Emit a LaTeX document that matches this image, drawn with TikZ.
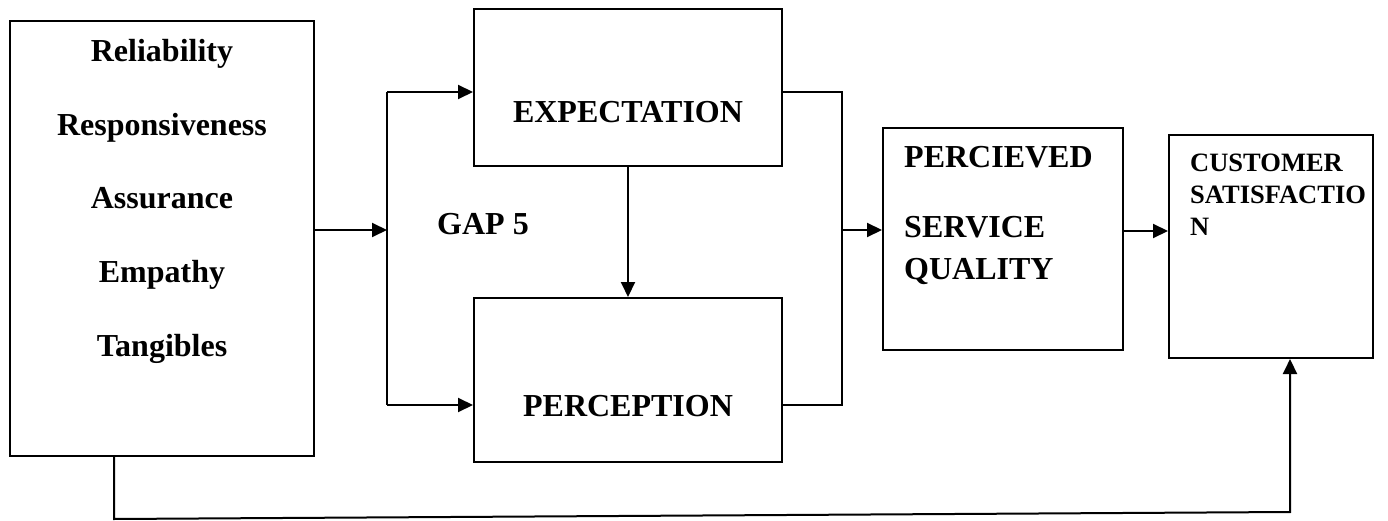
\documentclass[tikz,border=0pt]{standalone}
\usepackage{fontspec}
\setmainfont{Liberation Serif}
\usetikzlibrary{arrows.meta}
\begin{document}
\begin{tikzpicture}[x=1pt,y=-1pt,
  box/.style={draw,line width=2pt,rectangle,inner sep=0pt},
  conn/.style={line width=2pt},
  arr/.style={line width=2pt,-{Triangle[length=15pt,width=14pt]}},
  big/.style={inner sep=0pt,font=\fontsize{32}{38}\selectfont\bfseries},
  small/.style={inner sep=0pt,font=\fontsize{26.5}{32}\selectfont\bfseries}]
\useasboundingbox (0,0) rectangle (1388,521);
% boxes
\node[box,minimum width=304pt,minimum height=435pt] (left) at (162,238.5) {};
\node[box,minimum width=308pt,minimum height=157pt] (exp) at (628,87.5) {};
\node[box,minimum width=308pt,minimum height=164pt] (perc) at (628,380) {};
\node[box,minimum width=240pt,minimum height=222pt] (psq) at (1003,239) {};
\node[box,minimum width=204pt,minimum height=223pt] (cs) at (1271,246.5) {};
% texts
\node[big,anchor=base] (t1) at (162,62) {Reliability};
\node[big,anchor=base] (t2) at (162,135.5) {Responsiveness};
\node[big,anchor=base] (t3) at (162,209) {Assurance};
\node[big,anchor=base] (t4) at (162,282.5) {Empathy};
\node[big,anchor=base] (t5) at (162,356) {Tangibles};
\node[big,anchor=base] (te) at (628,123) {EXPECTATION};
\node[big,anchor=base] (tp) at (628,416) {PERCEPTION};
\node[big,anchor=base west] (gap) at (437,235) {GAP 5};
\node[big,anchor=base west] (q1) at (904,168) {PERCIEVED};
\node[big,anchor=base west] (q2) at (904,237) {SERVICE};
\node[big,anchor=base west] (q3) at (904,279) {QUALITY};
\node[small,anchor=base west] (c1) at (1190,172) {CUSTOMER};
\node[small,anchor=base west] (c2) at (1190,204) {SATISFACTIO};
\node[small,anchor=base west] (c3) at (1190,236) {N};
% junctions
\coordinate (jmid) at (387,230);
\coordinate (jtop) at (387,92);
\coordinate (jbot) at (387,405);
\coordinate (rtop) at (842,92);
\coordinate (rmid) at (842,230);
\coordinate (rbot) at (842,405);
\coordinate (smid) at (1123,231);
\coordinate (bl) at (114,519);
\coordinate (br) at (1290,512);
% connectors
\draw[arr] (left.east |- jmid) -- (jmid);
\draw[conn] (jtop) -- (jbot);
\draw[arr] (jtop) -- (exp.west |- jtop);
\draw[arr] (jbot) -- (perc.west |- jbot);
\draw[arr] (exp.south) -- (perc.north);
\draw[conn] (exp.east |- rtop) -- (rtop) -- (rbot) -- (perc.east |- rbot);
\draw[arr] (rmid) -- (psq.west |- rmid);
\draw[arr] (psq.east |- smid) -- (cs.west |- smid);
\draw[arr] (left.south -| bl) -- (bl) -- (br) -- (cs.south -| br);
\end{tikzpicture}
\end{document}
